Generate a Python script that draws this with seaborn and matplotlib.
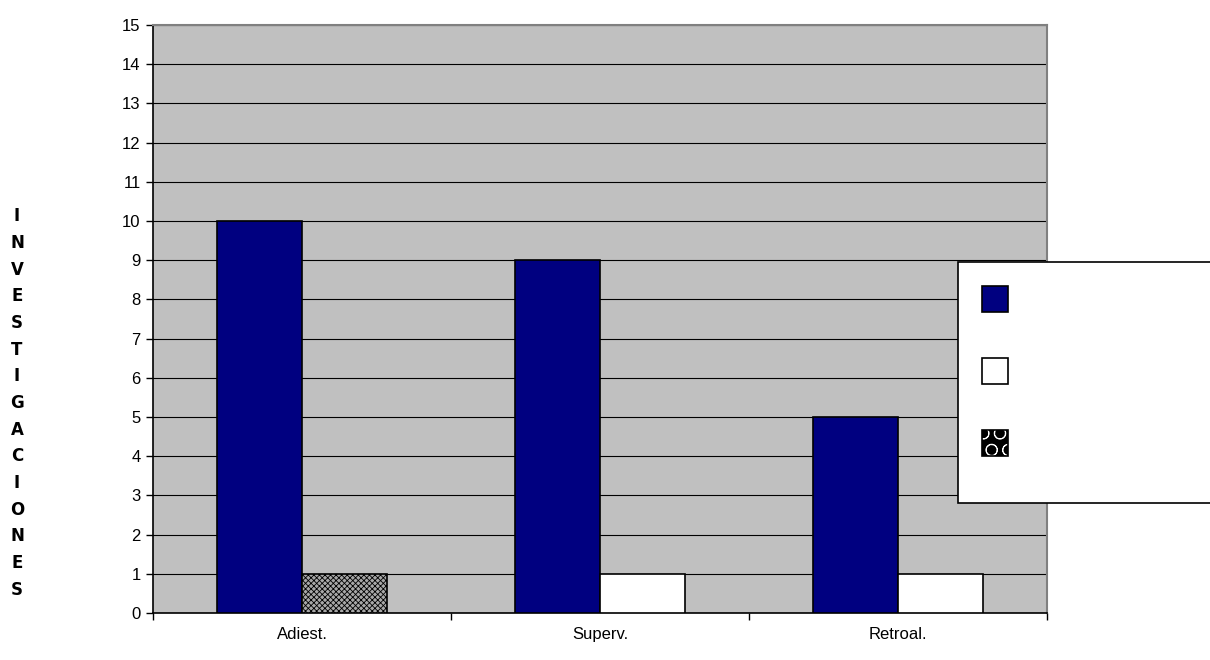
import matplotlib
matplotlib.use("Agg")
import matplotlib.pyplot as plt
import matplotlib.patches as mpatches
from matplotlib.legend_handler import HandlerTuple
from matplotlib.ticker import FixedLocator
import seaborn as sns
import pandas as pd

categories = ["Adiest.", "Superv.", "Retroal."]
serie_1 = [10, 9, 5]
serie_2 = [1, 1, 1]
y_ticks = list(range(0, 16))
y_letters = "INVESTIGACIONES"

sns.set_theme(style="white")
plt.rcParams["font.family"] = ["Liberation Sans", "DejaVu Sans"]
plt.rcParams["hatch.linewidth"] = 0.6

df = pd.DataFrame({
    "categoria": categories * 2,
    "valor": serie_1 + serie_2,
    "serie": ["s1"] * 3 + ["s2"] * 3,
})

W, H = 1210, 660
fig = plt.figure(figsize=(W / 100, H / 100), dpi=100)
ax = fig.add_axes([153 / W, 1 - 613 / H, (1047 - 153) / W, (613 - 25) / H])
ax.set_facecolor("#C0C0C0")

sns.barplot(data=df, x="categoria", y="valor", hue="serie",
            palette={"s1": "#000080", "s2": "#FFFFFF"}, saturation=1,
            width=0.57, edgecolor="black", linewidth=1.2,
            legend=False, ax=ax, zorder=3)

# the second bar of the first group carries a dotted fill
bars = [p for p in ax.patches if isinstance(p, mpatches.Rectangle)]
s2_bars = sorted([b for b in bars if b.get_facecolor()[0] > 0.9],
                 key=lambda b: b.get_x())
if s2_bars:
    b = s2_bars[0]
    b.set_facecolor("#a8a8a8")
    b.set_hatch("xxxxxx")

ax.set_xlim(-0.5, 2.5)
ax.set_ylim(0, 15)
ax.set_yticks(y_ticks)
ax.yaxis.grid(True, color="black", linewidth=0.8, zorder=0)
ax.set_axisbelow(True)
ax.set_xlabel("")
ax.set_ylabel("")

ax.tick_params(axis="y", which="major", direction="out", length=5, width=1,
               color="black", labelsize=12, labelcolor="black", pad=4, left=True)
ax.tick_params(axis="x", which="major", length=0, labelsize=12, pad=10,
               labelcolor="black")
ax.xaxis.set_minor_locator(FixedLocator([-0.5, 0.5, 1.5, 2.5]))
ax.tick_params(axis="x", which="minor", direction="out", length=5, width=1,
               color="black", bottom=True)

for side in ("left", "bottom"):
    ax.spines[side].set_color("black")
    ax.spines[side].set_linewidth(1.2)
for side in ("top", "right"):
    ax.spines[side].set_color("#808080")
    ax.spines[side].set_linewidth(1.5)

# stacked vertical title
fig.text(17 / W, 1 - 403 / H, "\n".join(y_letters),
         ha="center", va="center", fontsize=12, fontweight="bold",
         family="DejaVu Sans", linespacing=1.62, color="black")

# legend frame
frame = mpatches.Rectangle((958 / W, 1 - 503 / H), 270 / W, 241 / H,
                           transform=fig.transFigure, facecolor="white",
                           edgecolor="black", linewidth=1.2, zorder=5,
                           clip_on=False)
fig.add_artist(frame)

# legend swatches only
checker = (
    mpatches.Patch(facecolor="black", edgecolor="white", hatch="O", linewidth=0),
    mpatches.Patch(facecolor="none", edgecolor="black", linewidth=1.2),
)
handles = [
    mpatches.Patch(facecolor="#000080", edgecolor="black", linewidth=1.2),
    mpatches.Patch(facecolor="#FFFFFF", edgecolor="black", linewidth=1.2),
    checker,
]
leg = fig.legend(handles, [" ", " ", " "],
                 handler_map={tuple: HandlerTuple(ndivide=1)},
                 loc="upper left",
                 bbox_to_anchor=(982 / W, 1 - 286 / H),
                 frameon=False, fontsize=12,
                 handlelength=1.55, handleheight=2.02, labelspacing=2.77,
                 borderpad=0, borderaxespad=0, handletextpad=1)
leg.set_zorder(6)

fig.savefig("out.png", dpi=100)
